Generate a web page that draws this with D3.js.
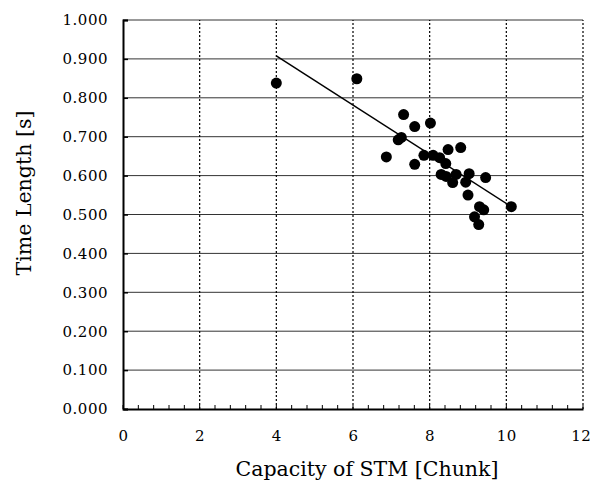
<!DOCTYPE html>
<html>
<head>
<meta charset="utf-8">
<script src="https://cdn.jsdelivr.net/npm/d3@7"></script>
<style>
  body { margin: 0; background: #fff; }
</style>
</head>
<body>
<div id="chart"></div>
<script>
// capacity of STM [chunk]
var capacity = [4.0, 6.1, 7.32, 7.61, 8.02, 7.18, 7.26, 6.87, 7.61, 7.85, 8.09, 8.26, 8.48, 8.81,
                8.42, 8.30, 8.43, 8.69, 8.60, 9.03, 8.94, 9.46, 9.00, 9.30, 9.41, 9.17, 9.28, 10.13];
// time length [s]
var timeLength = [0.838, 0.849, 0.757, 0.726, 0.735, 0.692, 0.698, 0.648, 0.629, 0.652, 0.652, 0.646, 0.667, 0.672,
                  0.631, 0.603, 0.598, 0.603, 0.582, 0.605, 0.583, 0.595, 0.550, 0.520, 0.512, 0.494, 0.474, 0.520];
// regression line
var fitRange = [4.0, 10.1];
var fitSlope = -0.0633;
var fitIntercept = 1.1612;

var xTicks = [0, 2, 4, 6, 8, 10, 12];
var yTicks = [0, 0.1, 0.2, 0.3, 0.4, 0.5, 0.6, 0.7, 0.8, 0.9, 1.0];

var width = 592, height = 480;
var margin = { top: 20, right: 9, bottom: 71, left: 123 };
var serif = "'DejaVu Serif', 'Liberation Serif', serif";

var svg = d3.select("#chart").append("svg")
    .attr("width", width)
    .attr("height", height);

var x = d3.scaleLinear().domain([0, 12]).range([margin.left, width - margin.right]);
var y = d3.scaleLinear().domain([0, 1]).range([height - margin.bottom, margin.top]);

// horizontal grid
svg.append("g").selectAll("line").data(yTicks.slice(1)).enter().append("line")
    .attr("x1", x(0)).attr("x2", x(12))
    .attr("y1", function (d) { return y(d); })
    .attr("y2", function (d) { return y(d); })
    .attr("stroke", "#333").attr("stroke-width", 1);

// vertical grid (dotted)
svg.append("g").selectAll("line").data(xTicks.slice(1)).enter().append("line")
    .attr("x1", function (d) { return x(d); })
    .attr("x2", function (d) { return x(d); })
    .attr("y1", y(0)).attr("y2", y(1))
    .attr("stroke", "#000").attr("stroke-width", 1.2)
    .attr("stroke-dasharray", "2,2");

// x axis with inward minor ticks every 0.4
var xMinor = d3.range(0, 12.01, 0.4);
svg.append("g").selectAll("line").data(xMinor).enter().append("line")
    .attr("x1", function (d) { return x(d); })
    .attr("x2", function (d) { return x(d); })
    .attr("y1", y(0)).attr("y2", y(0) - 4)
    .attr("stroke", "#000");

svg.append("g")
    .attr("transform", "translate(0," + y(0) + ")")
    .call(d3.axisBottom(x).tickValues(xTicks).tickSize(0).tickFormat(d3.format("d")))
    .call(function (g) {
        g.attr("font-family", serif);
        g.select(".domain").attr("stroke", "#000").attr("stroke-width", 2);
        g.selectAll("text")
            .attr("y", 32).attr("dy", null)
            .style("font-family", serif).style("font-size", "15px")
            .style("letter-spacing", "0.6px");
        // last label sits against the right edge, as in the original
        g.selectAll(".tick").filter(function (d) { return d === 12; }).select("text")
            .attr("text-anchor", "end").attr("x", 8);
    });

svg.append("g")
    .attr("transform", "translate(" + x(0) + ",0)")
    .call(d3.axisLeft(y).tickValues(yTicks).tickSize(-5).tickPadding(15).tickFormat(d3.format(".3f")))
    .call(function (g) {
        g.attr("font-family", serif);
        g.select(".domain").attr("stroke", "#000").attr("stroke-width", 2);
        g.selectAll(".tick line").attr("stroke", "#000").attr("stroke-width", 1.5);
        g.selectAll("text").style("font-family", serif).style("font-size", "15px")
            .style("letter-spacing", "0.5px");
    });

// regression line
svg.append("line")
    .attr("x1", x(fitRange[0])).attr("y1", y(fitIntercept + fitSlope * fitRange[0]))
    .attr("x2", x(fitRange[1])).attr("y2", y(fitIntercept + fitSlope * fitRange[1]))
    .attr("stroke", "#000").attr("stroke-width", 1.5);

// points
svg.append("g").selectAll("circle").data(capacity).enter().append("circle")
    .attr("cx", function (d) { return x(d); })
    .attr("cy", function (d, i) { return y(timeLength[i]); })
    .attr("r", 5.5)
    .attr("fill", "#000");

// axis titles
svg.append("text")
    .attr("x", 367)
    .attr("y", 476)
    .attr("text-anchor", "middle")
    .style("font-family", serif)
    .style("font-size", "20.5px")
    .text("Capacity of STM [Chunk]");

svg.append("text")
    .attr("transform", "translate(31,193) rotate(-90)")
    .attr("text-anchor", "middle")
    .style("font-family", serif)
    .style("font-size", "20.5px")
    .text("Time Length [s]");
</script>
</body>
</html>
